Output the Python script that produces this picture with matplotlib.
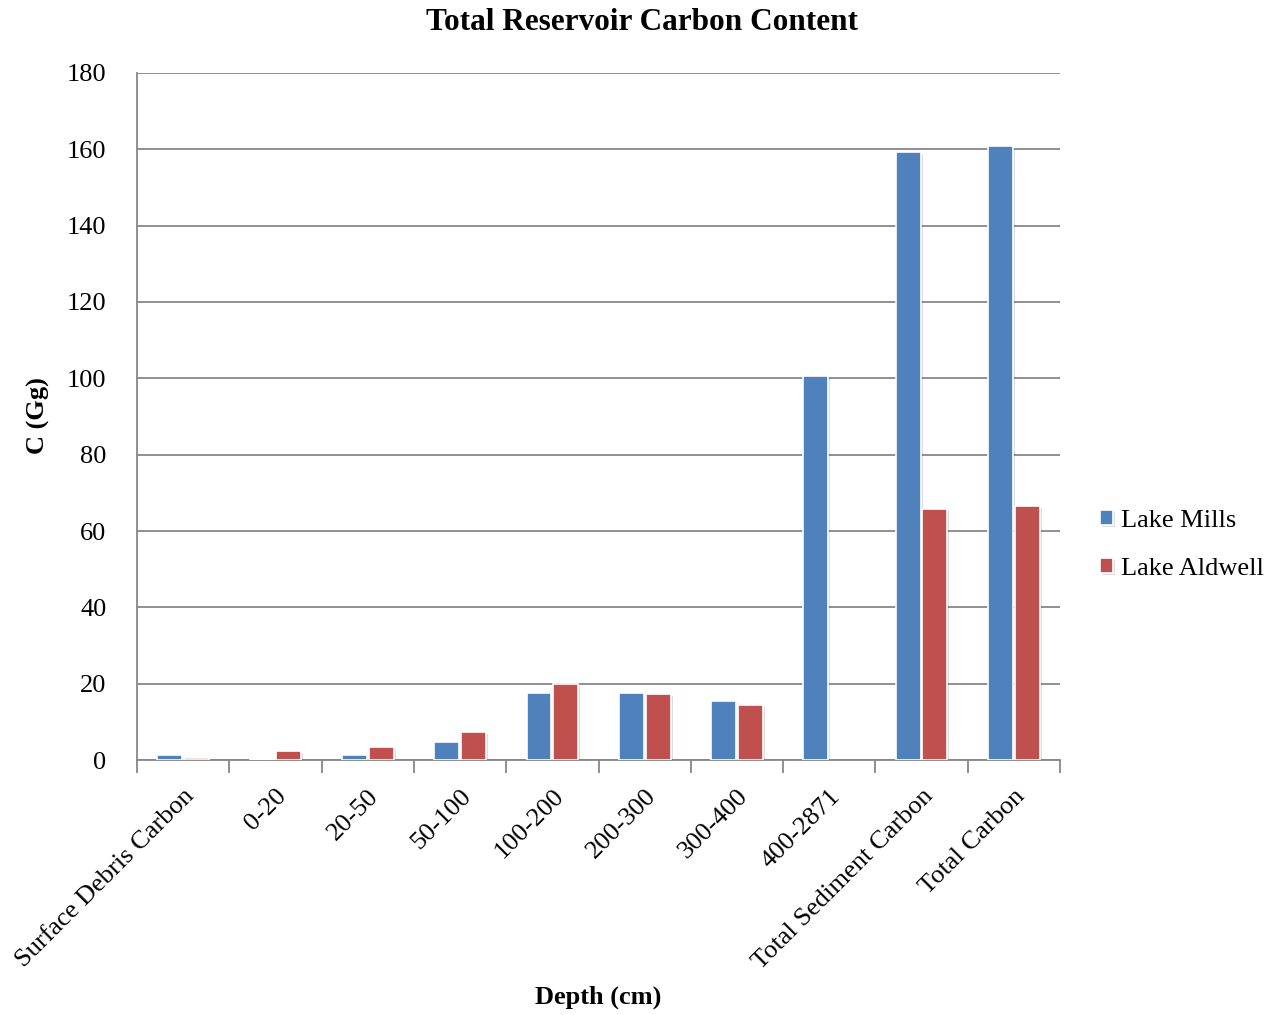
import numpy as np
import matplotlib
matplotlib.use("Agg")
import matplotlib.pyplot as plt
import matplotlib.patheffects as pe

# -----------------------------------------------------
# DONNEES
# -----------------------------------------------------
categories = ["Surface Debris Carbon", "0-20", "20-50", "50-100", "100-200",
              "200-300", "300-400", "400-2871", "Total Sediment Carbon", "Total Carbon"]
lake_mills = [1.2, 0.4, 1.4, 4.7, 17.5, 17.6, 15.5, 100.7, 159.4, 160.9]
lake_aldwell = [0.5, 2.4, 3.5, 7.3, 19.9, 17.2, 14.4, 0.0, 65.8, 66.6]
yticks = list(range(0, 181, 20))

plt.rcParams["font.family"] = ["Liberation Serif", "DejaVu Serif"]

BLEU = "#4F81BD"
ROUGE = "#C0504D"
GRIS = "#878787"
TAILLE = 19

fig = plt.figure(figsize=(12.83, 10.15), dpi=100)
ax = fig.add_axes([0.1068, 0.2512, 0.7194, 0.6769])

x = np.arange(len(categories))
largeur = 0.27
ombre = [pe.SimplePatchShadow(offset=(1.5, -1.5), alpha=0.18, rho=0.6), pe.Normal()]

b1 = ax.bar(x - 0.145, lake_mills, largeur, color=BLEU, edgecolor="white",
            linewidth=1.2, label="Lake Mills", zorder=3)
b2 = ax.bar(x + 0.145, lake_aldwell, largeur, color=ROUGE, edgecolor="white",
            linewidth=1.2, label="Lake Aldwell", zorder=3)
for rect in list(b1) + list(b2):
    if rect.get_height() > 0:
        rect.set_path_effects(ombre)
    else:
        rect.set_visible(False)

ax.set_xlim(-0.5, len(categories) - 0.5)
ax.set_ylim(0, 180)
ax.set_yticks(yticks)
ax.set_yticklabels([str(v) for v in yticks], fontsize=TAILLE)
ax.tick_params(axis="y", length=0, pad=22)
ax.yaxis.grid(True, color=GRIS, linewidth=1.3, zorder=0)
ax.set_axisbelow(True)

# ticks majeurs aux limites, labels au centre
ax.set_xticks(np.arange(-0.5, len(categories), 1.0))
ax.set_xticklabels([])
ax.tick_params(axis="x", which="major", length=9, width=1.3, color=GRIS, direction="out")
ax.set_xticks(x, minor=True)
ax.set_xticklabels(categories, minor=True, rotation=45, ha="right",
                   rotation_mode="anchor", fontsize=TAILLE)
ax.tick_params(axis="x", which="minor", length=0, pad=18)

for cote in ["top", "right"]:
    ax.spines[cote].set_visible(False)
for cote in ["left", "bottom"]:
    ax.spines[cote].set_color(GRIS)
    ax.spines[cote].set_linewidth(1.3)

fig.text(0.5, 1 - 22 / 1015, "Total Reservoir Carbon Content", ha="center", va="center",
         fontsize=22.5, fontweight="bold")
fig.text(38 / 1283, 1 - 416 / 1015, "C (Gg)", rotation=90, ha="center", va="center",
         fontsize=TAILLE, fontweight="bold")
fig.text(598 / 1283, 1 - 997 / 1015, "Depth (cm)", ha="center", va="center",
         fontsize=TAILLE, fontweight="bold")

leg = fig.legend(handles=[b1, b2], loc="center left", bbox_to_anchor=(1076 / 1283, 1 - 545 / 1015),
                 frameon=False, fontsize=TAILLE, handlelength=0.5, handleheight=0.5,
                 handletextpad=0.3, labelspacing=1.0)

fig.savefig("out.png", dpi=100)
